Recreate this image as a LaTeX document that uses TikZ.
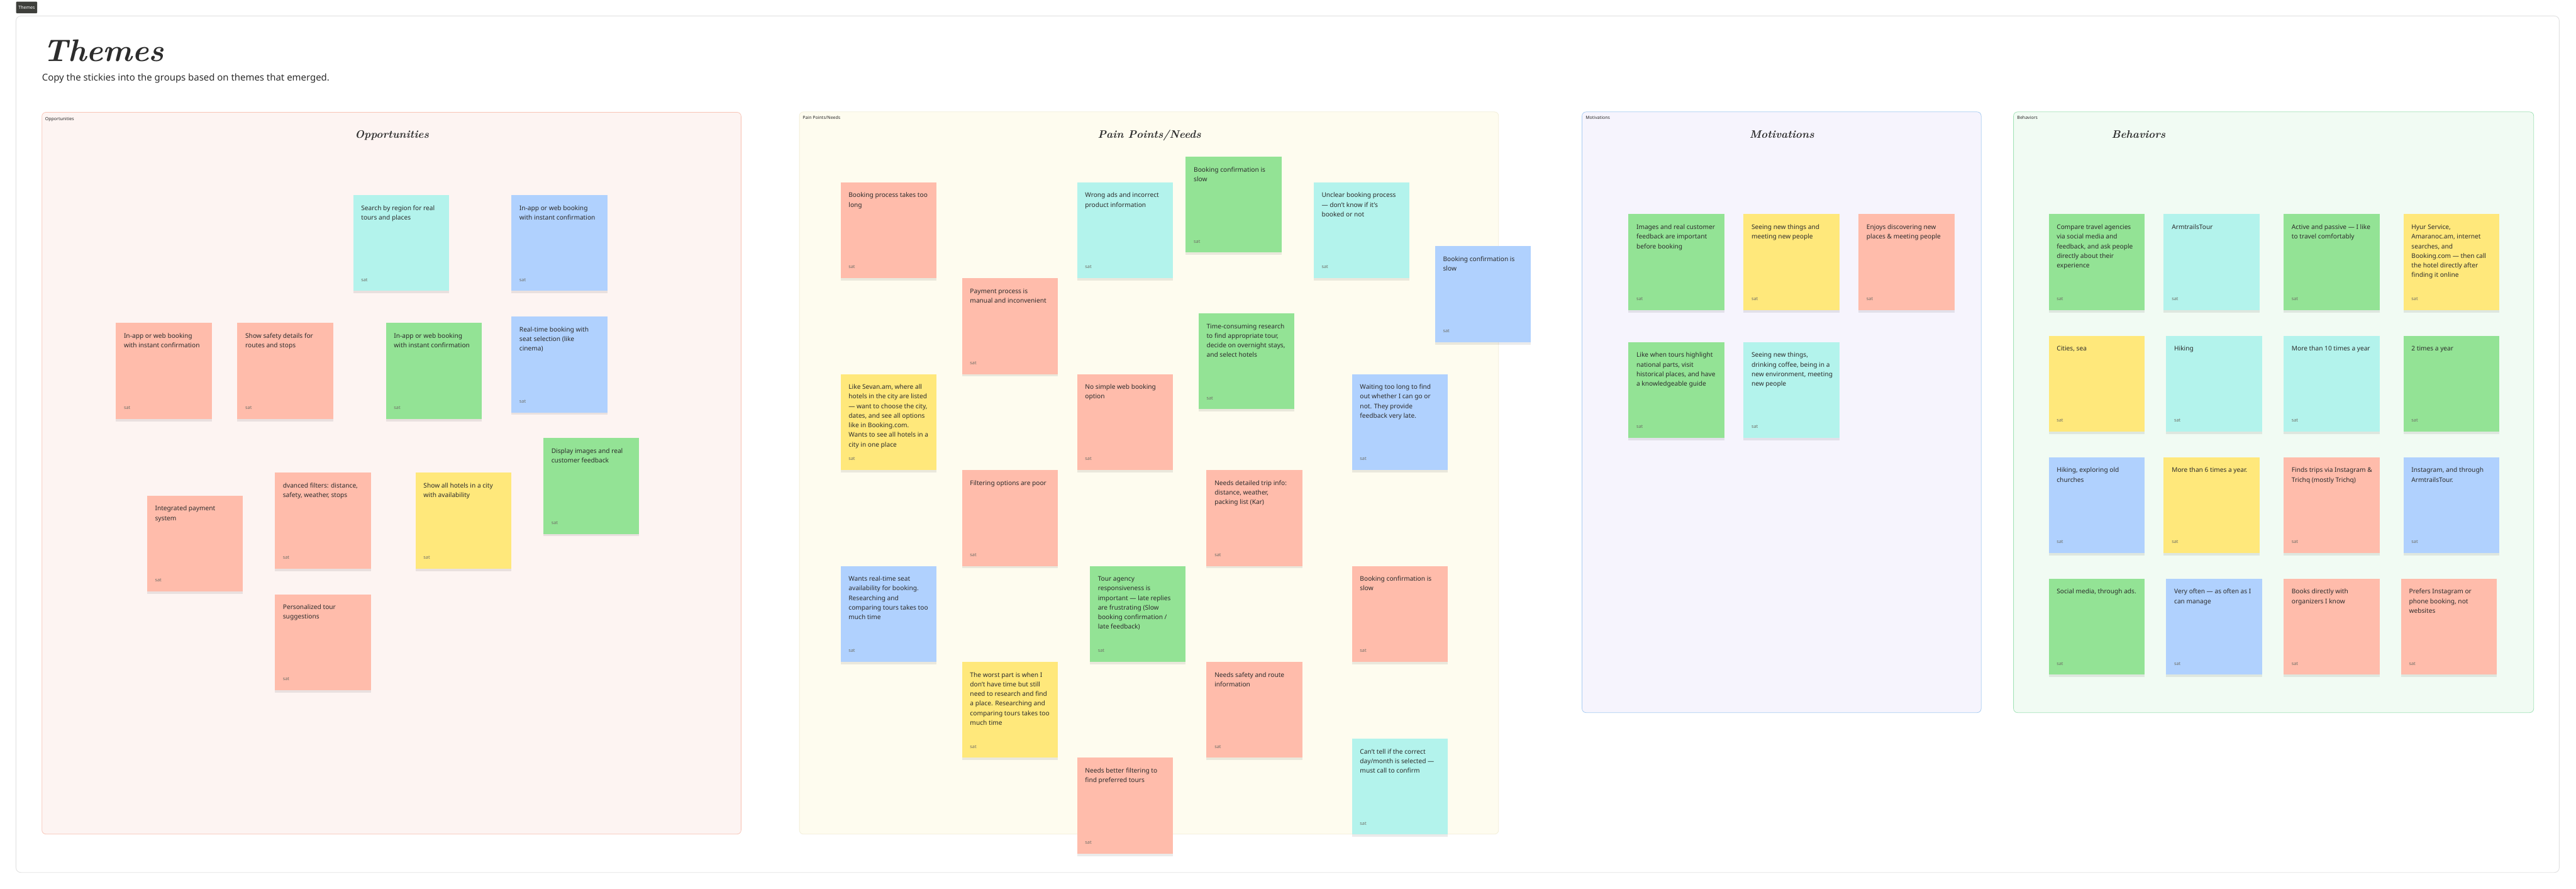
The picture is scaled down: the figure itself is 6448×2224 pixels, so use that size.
\documentclass[tikz,border=0pt]{standalone}
\usepackage{fontspec}
\newfontfamily\ui{Noto Sans}
\usetikzlibrary{shadows}
\definecolor{stSalmon}{HTML}{FFBCAB}
\definecolor{stCyan}{HTML}{B3F3EC}
\definecolor{stBlue}{HTML}{B0D1FE}
\definecolor{stGreen}{HTML}{93E395}
\definecolor{stYellow}{HTML}{FFE87B}
\definecolor{txtDark}{HTML}{2C2C2C}
\definecolor{satGray}{HTML}{6E6E66}
\definecolor{oppFill}{HTML}{FDF4F2}
\definecolor{oppLine}{HTML}{F8C4B6}
\definecolor{painFill}{HTML}{FEFCEF}
\definecolor{painLine}{HTML}{F2EED8}
\definecolor{motFill}{HTML}{F6F4FD}
\definecolor{motLine}{HTML}{A8CCF2}
\definecolor{behFill}{HTML}{F1FBF3}
\definecolor{behLine}{HTML}{A4E3B9}
\definecolor{frameLine}{HTML}{E2E2E2}
\definecolor{tagFill}{HTML}{3E3F3B}
\tikzset{
  stickybox/.style={rectangle, anchor=north west, minimum width=240pt, minimum height=240pt,
    inner sep=0pt, outer sep=0pt,
    drop shadow={shadow xshift=0pt, shadow yshift=-6pt, opacity=0.08, fill=black}},
  stickytext/.style={anchor=base west, inner sep=0pt, text=txtDark,
    font=\ui\fontsize{16}{24}\selectfont},
  sattext/.style={anchor=base west, inner sep=0pt, text=satGray,
    font=\ui\fontsize{11.5}{14}\selectfont},
  grouplabel/.style={anchor=base west, inner sep=0pt, text=txtDark,
    font=\ui\fontsize{11}{13}\selectfont},
  grouptitle/.style={anchor=base, inner sep=0pt, text=txtDark,
    font=\fontsize{27}{30}\selectfont\bfseries\itshape},
  groupframe/.style={rounded corners=10pt, line width=1.2pt},
  tagbox/.style={anchor=north west, fill=tagFill, text=white, rounded corners=2pt,
    minimum width=53pt, minimum height=29pt, inner sep=0pt,
    font=\ui\fontsize{11}{13}\selectfont},
  bigtitle/.style={anchor=base west, inner sep=0pt, text=txtDark,
    font=\fontsize{78}{88}\selectfont\bfseries\itshape},
  subtitlestyle/.style={anchor=base west, inner sep=0pt, text=txtDark,
    font=\ui\fontsize{23.5}{28}\selectfont},
}
\newcommand{\stk}[5]{%
  \node[stickybox, fill=#4] (#1) at (#2,#3) {};
  \node[stickytext] (#1-t) at (#2+20,#3+38) {\parbox[t]{215pt}{\raggedright #5}};
  \node[sattext] (#1-s) at (#2+20,#3+216) {sat};
}
\begin{document}
\begin{tikzpicture}[x=1pt,y=-1pt]
\useasboundingbox (0,0) rectangle (6448,2224);
\fill[white] (0,0) rectangle (6448,2224);
% tag and outer frame
\node[tagbox] (tag) at (40,4) {Themes};
\draw[frameLine, fill=white, line width=1.5pt, rounded corners=12pt] (40,40) rectangle (6406,2183);
\node[bigtitle] (title) at (108,153) {Themes};
\node[subtitlestyle] (subtitle) at (105,203) {Copy the stickies into the groups based on themes that emerged.};

% group frames
\draw[groupframe, draw=oppLine, fill=oppFill] (105,281) rectangle (1855,2087);
\draw[groupframe, draw=painLine, fill=painFill] (2001,280) rectangle (3751,2087);
\draw[groupframe, draw=motLine, fill=motFill] (3960,280) rectangle (4959,1783);
\draw[groupframe, draw=behLine, fill=behFill] (5040,280) rectangle (6342,1783);

\node[grouplabel] (oppLabel) at (113,301) {Opportunities};
\node[grouplabel] (painLabel) at (2009,298) {Pain Points/Needs};
\node[grouplabel] (motLabel) at (3969,298) {Motivations};
\node[grouplabel] (behLabel) at (5049,298) {Behaviors};

\node[grouptitle] (oppTitle) at (981,346) {Opportunities};
\node[grouptitle] (painTitle) at (2877,346) {Pain Points/Needs};
\node[grouptitle] (motTitle) at (4460,346) {Motivations};
\node[grouptitle] (behTitle) at (5353,346) {Behaviors};

% Opportunities
\stk{o1}{884}{488}{stCyan}{Search by region for real\\tours and places}
\stk{o5}{1280}{488}{stBlue}{In-app or web booking\\with instant confirmation}
\stk{o6}{1280}{792}{stBlue}{Real-time booking with\\seat selection (like\\cinema)}
\stk{o2}{290}{808}{stSalmon}{In-app or web booking\\with instant confirmation}
\stk{o3}{594}{808}{stSalmon}{Show safety details for\\routes and stops}
\stk{o4}{966}{808}{stGreen}{In-app or web booking\\with instant confirmation}
\stk{o7}{1360}{1096}{stGreen}{Display images and real\\customer feedback}
\stk{o8}{1040}{1183}{stYellow}{Show all hotels in a city\\with availability}
\stk{o9}{368}{1240}{stSalmon}{Integrated payment\\system}
\stk{o10}{688}{1183}{stSalmon}{dvanced filters: distance,\\safety, weather, stops}
\stk{o11}{688}{1487}{stSalmon}{Personalized tour\\suggestions}

% Pain Points / Needs
\stk{p1}{2104}{456}{stSalmon}{Booking process takes too\\long}
\stk{p2}{2696}{456}{stCyan}{Wrong ads and incorrect\\product information}
\stk{p3}{2408}{696}{stSalmon}{Payment process is\\manual and inconvenient}
\stk{p4}{2104}{936}{stYellow}{Like Sevan.am, where all\\hotels in the city are listed\\— want to choose the city,\\dates, and see all options\\like in Booking.com.\\Wants to see all hotels in a\\city in one place}
\stk{p5}{2696}{936}{stSalmon}{No simple web booking\\option}
\stk{p6}{2968}{392}{stGreen}{Booking confirmation is\\slow}
\stk{p7}{3288}{456}{stCyan}{Unclear booking process\\— don’t know if it’s\\booked or not}
\stk{p8}{3592}{616}{stBlue}{Booking confirmation is\\slow}
\stk{p9}{3000}{784}{stGreen}{Time-consuming research\\to find appropriate tour,\\decide on overnight stays,\\and select hotels}
\stk{p10}{3384}{936}{stBlue}{Waiting too long to find\\out whether I can go or\\not. They provide\\feedback very late.}
\stk{p11}{2408}{1176}{stSalmon}{Filtering options are poor}
\stk{p12}{2104}{1416}{stBlue}{Wants real-time seat\\availability for booking.\\Researching and\\comparing tours takes too\\much time}
\stk{p13}{2728}{1416}{stGreen}{Tour agency\\responsiveness is\\important — late replies\\are frustrating (Slow\\booking confirmation /\\late feedback)}
\stk{p14}{2408}{1656}{stYellow}{The worst part is when I\\don’t have time but still\\need to research and find\\a place. Researching and\\comparing tours takes too\\much time}
\stk{p15}{2696}{1896}{stSalmon}{Needs better filtering to\\find preferred tours}
\stk{p16}{3020}{1176}{stSalmon}{Needs detailed trip info:\\distance, weather,\\packing list (Kar)}
\stk{p17}{3384}{1416}{stSalmon}{Booking confirmation is\\slow}
\stk{p18}{3020}{1656}{stSalmon}{Needs safety and route\\information}
\stk{p19}{3384}{1848}{stCyan}{Can’t tell if the correct\\day/month is selected —\\must call to confirm}

% Motivations
\stk{m1}{4076}{536}{stGreen}{Images and real customer\\feedback are important\\before booking}
\stk{m2}{4364}{536}{stYellow}{Seeing new things and\\meeting new people}
\stk{m3}{4652}{536}{stSalmon}{Enjoys discovering new\\places \& meeting people}
\stk{m4}{4076}{856}{stGreen}{Like when tours highlight\\national parts, visit\\historical places, and have\\a knowledgeable guide}
\stk{m5}{4364}{856}{stCyan}{Seeing new things,\\drinking coffee, being in a\\new environment, meeting\\new people}

% Behaviors
\stk{b1}{5128}{536}{stGreen}{Compare travel agencies\\via social media and\\feedback, and ask people\\directly about their\\experience}
\stk{b2}{5416}{536}{stCyan}{ArmtrailsTour}
\stk{b3}{5716}{536}{stGreen}{Active and passive — I like\\to travel comfortably}
\stk{b4}{6016}{536}{stYellow}{Hyur Service,\\Amaranoc.am, internet\\searches, and\\Booking.com — then call\\the hotel directly after\\finding it online}
\stk{b5}{5128}{840}{stYellow}{Cities, sea}
\stk{b6}{5422}{840}{stCyan}{Hiking}
\stk{b7}{5716}{840}{stCyan}{More than 10 times a year}
\stk{b8}{6016}{840}{stGreen}{2 times a year}
\stk{b9}{5128}{1144}{stBlue}{Hiking, exploring old\\churches}
\stk{b10}{5416}{1144}{stYellow}{More than 6 times a year.}
\stk{b11}{5716}{1144}{stSalmon}{Finds trips via Instagram \&\\Trichq (mostly Trichq)}
\stk{b12}{6016}{1144}{stBlue}{Instagram, and through\\ArmtrailsTour.}
\stk{b13}{5128}{1448}{stGreen}{Social media, through ads.}
\stk{b14}{5422}{1448}{stBlue}{Very often — as often as I\\can manage}
\stk{b15}{5716}{1448}{stSalmon}{Books directly with\\organizers I know}
\stk{b16}{6010}{1448}{stSalmon}{Prefers Instagram or\\phone booking, not\\websites}
\end{tikzpicture}
\end{document}
